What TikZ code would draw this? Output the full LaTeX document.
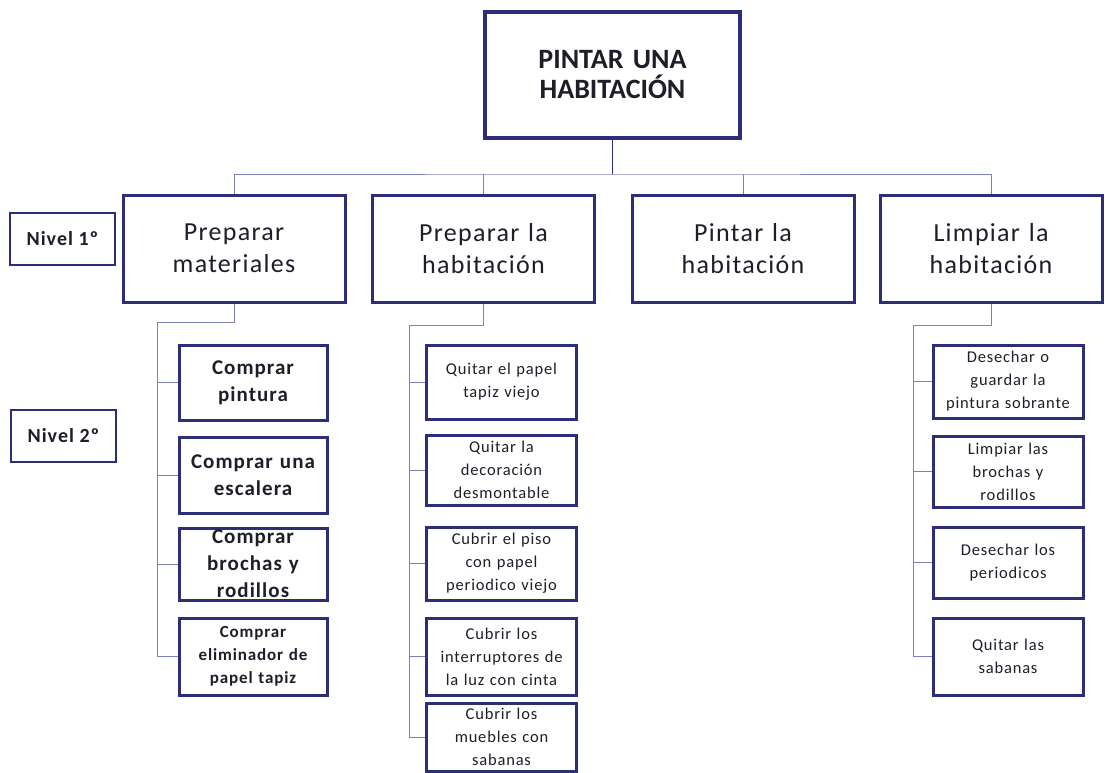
\documentclass[tikz,border=0pt]{standalone}
\usepackage{fontspec}
\setmainfont{Carlito}
\newfontfamily\spaced{Carlito}[LetterSpace=5]
\usepackage{xcolor}
\definecolor{boxblue}{RGB}{44,46,122}
\definecolor{linkblue}{RGB}{125,130,190}
\definecolor{inkdark}{RGB}{30,30,42}

\tikzset{
  every node/.style={text=inkdark},
  boxbase/.style={draw=boxblue,line width=3pt,fill=white,rectangle,inner sep=2pt,align=center},
  rootbox/.style={boxbase,line width=3.6pt,minimum width=255pt,minimum height=126pt,text width=230pt,
    font=\fontsize{28}{30}\selectfont\bfseries},
  topbox/.style={boxbase,minimum width=222pt,minimum height=107pt,text width=200pt,
    font=\spaced\fontsize{26}{32}\selectfont},
  levelbox/.style={boxbase,line width=2.6pt,minimum width=105pt,minimum height=52pt,
    font=\spaced\fontsize{20}{24}\selectfont\bfseries},
  buybox/.style={boxbase,minimum width=148pt,text width=140pt,
    font=\spaced\fontsize{21}{27}\selectfont\bfseries},
  taskbox/.style={boxbase,minimum width=150pt,text width=142pt,
    font=\spaced\fontsize{16.5}{23}\selectfont},
  trunk/.style={draw=boxblue,line width=1.8pt},
  link/.style={draw=linkblue,line width=1pt}
}

\begin{document}
\begin{tikzpicture}[x=1pt,y=-1pt]
    \useasboundingbox[fill=white] (0,0) rectangle (1105,772);

    % TOP
    \node[rootbox] (root) at (612.5,75) {PINTAR UNA\\HABITACIÓN};

    % Levels
    \node[levelbox] (niv1) at (62.5,239) {Nivel 1º};
    \node[levelbox] (niv2) at (63.5,436) {Nivel 2º};

    % LEVEL 1
    \node[topbox] (mat) at (234,248.5) {Preparar\\materiales};
    \node[topbox] (hab) at (483.5,248.5) {Preparar la\\habitación};
    \node[topbox] (pin) at (743,248.5) {Pintar la\\habitación};
    \node[topbox] (lim) at (991,248.5) {Limpiar la\\habitación};

    % Bus
    \coordinate (bus) at (612.5,174);
    \draw[trunk] (root.south) -- (bus);
    \draw[link] (mat.north) |- (bus) -| (lim.north);
    \draw[link] (hab.north) -- (hab.north |- bus);
    \draw[link] (pin.north) -- (pin.north |- bus);

    % LEVEL 2 - materiales
    \node[buybox,minimum height=75pt] (m1) at (253,382.5) {Comprar\\pintura};
    \node[buybox,minimum height=76pt] (m2) at (253,475) {Comprar una\\escalera};
    \node[buybox,minimum height=72pt] (m3) at (253,564) {Comprar\\brochas y\\rodillos};
    \node[buybox,minimum height=77pt,font=\spaced\fontsize{17}{23}\selectfont\bfseries] (m4) at (253,656.5)
        {Comprar\\eliminador de\\papel tapiz};

    \coordinate (mcol) at (157,322);
    \draw[link] (mat.south) |- (mcol) |- (m4.west);
    \foreach \n in {m1,m2,m3}
        \draw[link] (\n.west -| mcol) -- (\n.west);

    % LEVEL 2 - habitacion
    \node[taskbox,minimum height=74pt] (h1) at (501.5,382) {Quitar el papel\\tapiz viejo};
    \node[taskbox,minimum height=70pt] (h2) at (501.5,470) {Quitar la\\decoración\\desmontable};
    \node[taskbox,minimum height=73pt] (h3) at (501.5,563.5) {Cubrir el piso\\con papel\\periodico viejo};
    \node[taskbox,minimum height=77pt] (h4) at (501.5,656.5) {Cubrir los\\interruptores de\\la luz con cinta};
    \node[taskbox,minimum height=68pt] (h5) at (501.5,737) {Cubrir los\\muebles con\\sabanas};

    \coordinate (hcol) at (409,325);
    \draw[link] (hab.south) |- (hcol) |- (h5.west);
    \foreach \n in {h1,h2,h3,h4}
        \draw[link] (\n.west -| hcol) -- (\n.west);

    % LEVEL 2 - limpiar
    \node[taskbox,minimum height=73pt] (l1) at (1008,381.5) {Desechar o\\guardar la\\pintura sobrante};
    \node[taskbox,minimum height=71pt] (l2) at (1008,471.5) {Limpiar las\\brochas y\\rodillos};
    \node[taskbox,minimum height=71pt] (l3) at (1008,562.5) {Desechar los\\periodicos};
    \node[taskbox,minimum height=77pt] (l4) at (1008,656.5) {Quitar las\\sabanas};

    \coordinate (lcol) at (913,325);
    \draw[link] (lim.south) |- (lcol) |- (l4.west);
    \foreach \n in {l1,l2,l3}
        \draw[link] (\n.west -| lcol) -- (\n.west);
\end{tikzpicture}
\end{document}
